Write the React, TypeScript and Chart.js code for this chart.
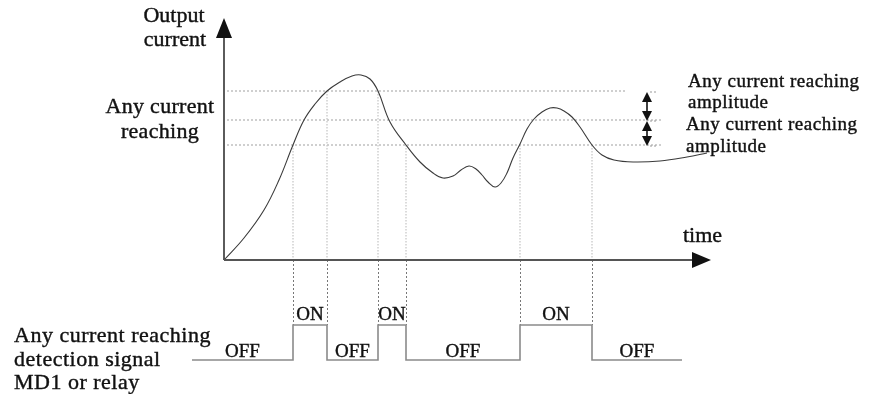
import React, { useEffect, useRef } from "react";
import { Chart, registerables } from "chart.js";

Chart.register(...registerables);

// ---- data (arbitrary units: time from origin, current from zero) ----
const curveTime = [0, 20, 40, 55, 69, 80, 91, 103, 116, 128, 137, 146, 154, 166, 182, 196, 209, 219, 229, 237, 245, 252, 258, 264, 271, 277, 283, 289, 296, 303, 310, 318, 326, 333, 340, 348, 356, 368, 378, 390, 409, 436, 463, 483];
const curveCurrent = [0, 22, 50, 80, 115, 140, 156, 169, 178, 184, 185, 181, 169, 138, 115, 98, 87, 82, 84, 90, 94, 91, 85, 78, 73, 77, 87, 102, 116, 131, 141, 148, 152, 152, 149, 143, 133, 115, 105, 100, 98, 99, 103, 107];

const levelValues = [169, 140, 115];
const levelEnds = [403, 439, 439];

const crossTime = [69, 103, 154, 182, 296, 368];
const crossCurrent = [115, 169, 169, 115, 115, 115];

const signalTime = [-32, 69, 103, 154, 182, 296, 368, 458];
const signalState = ["OFF", "ON", "OFF", "ON", "OFF", "ON", "OFF", "OFF"];
const signalLevels: Record<string, number> = { OFF: -100, ON: -65 };

const amplitudeTime = 423;

const FONT = "'Liberation Serif', 'Times New Roman', serif";

type Label = { text: string; t: number; v: number; size: number; align: CanvasTextAlign; spacing: number };
const labels: Label[] = [
  { text: "Output", t: -50, v: 244, size: 22, align: "center", spacing: 0 },
  { text: "current", t: -49, v: 220, size: 22, align: "center", spacing: 0 },
  { text: "Any current", t: -64, v: 153, size: 22, align: "center", spacing: 0.3 },
  { text: "reaching", t: -64, v: 128, size: 22, align: "center", spacing: 0.3 },
  { text: "Any current reaching", t: 464, v: 178, size: 19, align: "left", spacing: 0.5 },
  { text: "amplitude", t: 464, v: 157, size: 19, align: "left", spacing: 0.5 },
  { text: "Any current reaching", t: 462, v: 135, size: 19, align: "left", spacing: 0.5 },
  { text: "amplitude", t: 462, v: 113, size: 19, align: "left", spacing: 0.5 },
  { text: "time", t: 459, v: 24, size: 22, align: "left", spacing: 0 },
  { text: "Any current reaching", t: -210, v: -76, size: 22, align: "left", spacing: 0.5 },
  { text: "detection signal", t: -210, v: -100, size: 22, align: "left", spacing: 0.5 },
  { text: "MD1 or relay", t: -210, v: -123, size: 22, align: "left", spacing: 0.5 },
];

function drawText(ctx: any, text: string, x: number, y: number) {
  ctx.fillText(text, x, y);
  ctx.strokeText(text, x, y);
}

const diagramPlugin = {
  id: "diagram",
  beforeDatasetsDraw(chart: any) {
    const { ctx, scales } = chart;
    const X = (t: number) => scales.x.getPixelForValue(t);
    const Y = (v: number) => scales.y.getPixelForValue(v);
    ctx.save();
    // reference levels
    ctx.strokeStyle = "#b5b5b5";
    ctx.lineWidth = 1.3;
    ctx.setLineDash([2, 2]);
    levelValues.forEach((lv, i) => {
      ctx.beginPath();
      ctx.moveTo(X(3), Y(lv));
      ctx.lineTo(X(levelEnds[i]), Y(lv));
      ctx.stroke();
    });
    // vertical guide lines
    crossTime.forEach((ct, i) => {
      ctx.strokeStyle = "#c4c4c4";
      ctx.lineWidth = 1.2;
      ctx.setLineDash([1.5, 1.5]);
      ctx.beginPath();
      ctx.moveTo(X(ct), Y(crossCurrent[i]));
      ctx.lineTo(X(ct), Y(0));
      ctx.stroke();
      ctx.strokeStyle = "#555";
      ctx.lineWidth = 0.8;
      ctx.setLineDash([2, 2]);
      ctx.beginPath();
      ctx.moveTo(X(ct) + 0.5, Y(0));
      ctx.lineTo(X(ct) + 0.5, Y(signalLevels.ON));
      ctx.stroke();
    });
    ctx.restore();
  },
  afterDatasetsDraw(chart: any) {
    const { ctx, scales } = chart;
    const X = (t: number) => scales.x.getPixelForValue(t);
    const Y = (v: number) => scales.y.getPixelForValue(v);
    ctx.save();
    // axes
    const x0 = X(0), y0 = Y(0);
    const xEnd = X(487), yTop = Y(242);
    ctx.strokeStyle = "#333";
    ctx.fillStyle = "#111";
    ctx.lineWidth = 1.6;
    ctx.beginPath();
    ctx.moveTo(x0, y0);
    ctx.lineTo(x0, yTop + 10);
    ctx.stroke();
    ctx.strokeStyle = "#555";
    ctx.lineWidth = 2.2;
    ctx.beginPath();
    ctx.moveTo(x0, y0);
    ctx.lineTo(xEnd - 10, y0);
    ctx.stroke();
    ctx.beginPath();
    ctx.moveTo(x0, yTop);
    ctx.lineTo(x0 - 8, yTop + 20);
    ctx.lineTo(x0 + 8, yTop + 20);
    ctx.closePath();
    ctx.fill();
    ctx.beginPath();
    ctx.moveTo(xEnd, y0);
    ctx.lineTo(xEnd - 19, y0 - 8);
    ctx.lineTo(xEnd - 19, y0 + 8);
    ctx.closePath();
    ctx.fill();

    // amplitude arrows
    const ax = X(amplitudeTime);
    ctx.strokeStyle = "#999";
    ctx.lineWidth = 1;
    ctx.setLineDash([2, 2]);
    levelValues.forEach((lv) => {
      ctx.beginPath();
      ctx.moveTo(ax + 3, Y(lv - 1));
      ctx.lineTo(ax + 11, Y(lv - 1));
      ctx.stroke();
    });
    ctx.setLineDash([]);
    ctx.strokeStyle = "#111";
    ctx.lineWidth = 1.6;
    for (let i = 0; i < levelValues.length - 1; i++) {
      const ya = Y(levelValues[i] - 1), yb = Y(levelValues[i + 1] - 1);
      ctx.beginPath();
      ctx.moveTo(ax, ya + 5);
      ctx.lineTo(ax, yb - 5);
      ctx.stroke();
      ctx.beginPath();
      ctx.moveTo(ax, ya);
      ctx.lineTo(ax - 5, ya + 10);
      ctx.lineTo(ax + 5, ya + 10);
      ctx.closePath();
      ctx.fill();
      ctx.beginPath();
      ctx.moveTo(ax, yb);
      ctx.lineTo(ax - 5, yb - 10);
      ctx.lineTo(ax + 5, yb - 10);
      ctx.closePath();
      ctx.fill();
    }

    // signal state labels
    ctx.fillStyle = "#111";
    ctx.strokeStyle = "#111";
    ctx.lineWidth = 0.4;
    ctx.textAlign = "center";
    ctx.textBaseline = "middle";
    ctx.font = `19px ${FONT}`;
    for (let i = 0; i < signalTime.length - 1; i++) {
      const st = signalState[i];
      const mid = (signalTime[i] + signalTime[i + 1]) / 2;
      drawText(ctx, st, X(mid), Y(signalLevels[st] + (st === "ON" ? 10 : 8)));
    }

    // text annotations
    labels.forEach((l) => {
      ctx.font = `${l.size}px ${FONT}`;
      ctx.textAlign = l.align;
      (ctx as any).letterSpacing = `${l.spacing}px`;
      drawText(ctx, l.text, X(l.t), Y(l.v));
    });
    (ctx as any).letterSpacing = "0px";
    ctx.restore();
  },
};

export default function App() {
  const canvasRef = useRef<HTMLCanvasElement | null>(null);

  useEffect(() => {
    document.body.style.margin = "0";
    const canvas = canvasRef.current;
    if (!canvas) return;
    const chart = new Chart(canvas, {
      type: "line",
      data: {
        datasets: [
          {
            label: "Output current",
            data: curveTime.map((t, i) => ({ x: t, y: curveCurrent[i] })),
            borderColor: "#3a3a3a",
            borderWidth: 1.1,
            pointRadius: 0,
            tension: 0.4,
            clip: false,
          } as any,
          {
            label: "Detection signal",
            data: signalTime.map((t, i) => ({ x: t, y: signalLevels[signalState[i]] })),
            borderColor: "#8a8a8a",
            borderWidth: 1.6,
            pointRadius: 0,
            stepped: "before",
            clip: false,
          } as any,
        ],
      },
      options: {
        animation: false,
        responsive: false,
        devicePixelRatio: 1,
        layout: { padding: { left: 224, right: 174, top: 20, bottom: 14 } },
        plugins: { legend: { display: false }, tooltip: { enabled: false } },
        scales: {
          x: { type: "linear", min: 0, max: 486, display: false },
          y: { type: "linear", min: -120, max: 240, display: false },
        },
      },
      plugins: [diagramPlugin],
    });
    return () => chart.destroy();
  }, []);

  return (
    <div style={{ position: "absolute", left: 0, top: 0, width: 884, height: 394, background: "#fff" }}>
      <canvas ref={canvasRef} width={884} height={394} />
    </div>
  );
}
